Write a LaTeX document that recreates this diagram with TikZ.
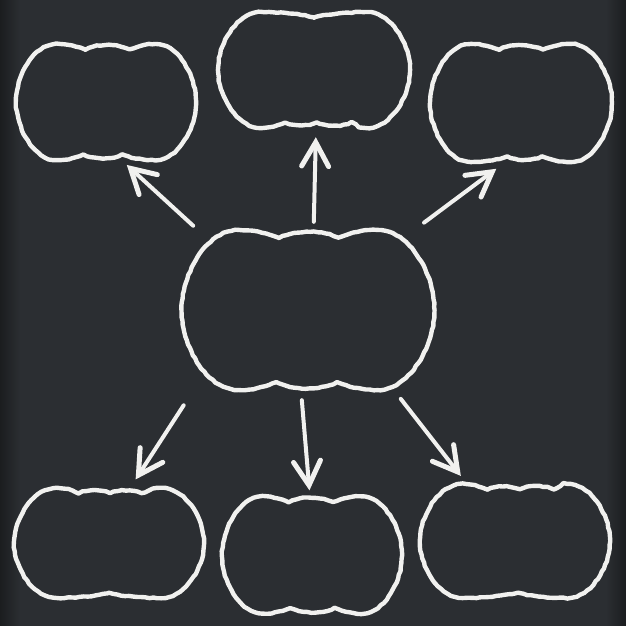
\documentclass[tikz,border=0pt]{standalone}
\usetikzlibrary{arrows.meta,decorations.pathmorphing}

\definecolor{board}{HTML}{2B2E32}
\definecolor{boardedge}{HTML}{1B1D1F}
\definecolor{chalk}{HTML}{F1F1EF}

\tikzset{
  hub/.style={shape=rectangle, inner sep=0pt},
  chalkline/.style={draw=chalk, line width=4.4pt, line join=round, line cap=round,
    decorate, decoration={random steps, segment length=4pt, amplitude=0.45pt}},
  chalkarrow/.style={draw=chalk, line width=4pt, line cap=round, line join=round,
    -{Straight Barb[length=24pt,width=27pt,line cap=round,line width=1pt 1]}},
}

% #1 name, #2 centre, #3 #4 size, #5 first dip on top, #6 other dips on top,
% #7 first dip below (right), #8 other dips below (leftwards)
\newcommand{\bubble}[8]{%
  \node[hub, minimum width=#3pt, minimum height=#4pt] (#1) at (#2) {};
  \draw[chalkline, shift={(#1.center)}, xscale=#3/2, yscale=-#4/2]
    (#5,0.9)
    \foreach \x [remember=\x as \px (initially #5)] in {#6}
      { .. controls ({\px+0.25*(\x-\px)},{0.9+0.22*(\x-\px)})
           and ({\x-0.25*(\x-\px)},{0.9+0.22*(\x-\px)}) .. (\x,0.9) }
    .. controls +(0.12,0.08) and (0.45,1) .. (0.55,1)
    .. controls (0.8,1) and (1,0.45) .. (1,0)
    .. controls (1,-0.45) and (0.8,-1) .. (0.55,-1)
    .. controls (0.45,-1) and (#7+0.12,-0.98) .. (#7,-0.9)
    \foreach \x [remember=\x as \px (initially #7)] in {#8}
      { .. controls ({\px-0.25*(\px-\x)},{-0.9-0.22*(\px-\x)})
           and ({\x+0.25*(\px-\x)},{-0.9-0.22*(\px-\x)}) .. (\x,-0.9) }
    .. controls +(-0.12,-0.08) and (-0.45,-1) .. (-0.55,-1)
    .. controls (-0.8,-1) and (-1,-0.45) .. (-1,0)
    .. controls (-1,0.45) and (-0.8,1) .. (-0.55,1)
    .. controls (-0.45,1) and (#5-0.12,0.98) .. (#5,0.9) -- cycle;
}

\begin{document}
\begin{tikzpicture}[x=1pt, y=-1pt]
      \fill[board] (0,0) rectangle (626,626);
      \shade[left color=boardedge, right color=board] (0,0) rectangle (20,626);
      \shade[left color=board, right color=boardedge] (606,0) rectangle (626,626);
      \useasboundingbox (0,0) rectangle (626,626);

      \bubble{ctr}{308,310}{253}{160}{-0.23}{0.24}{0.23}{-0.25}

      \bubble{tl}{106,102}{180}{116}{-0.23}{0.26}{0.18}{-0.25}
      \bubble{tm}{314,70}{192}{116}{0}{0.02}{0.39}{0.03,-0.3}
      \bubble{tr}{521,103}{182}{118}{-0.24}{0.24}{0.23}{-0.15}

      \bubble{bl}{109,543}{190}{110}{-0.32}{0.01,0.34}{0}{-0.02}
      \bubble{bm}{312,555}{180}{117}{-0.26}{0.23}{0.25}{-0.24}
      \bubble{br}{515,541}{190}{114}{-0.29}{0.05,0.41}{0.03}{0.01}

      % --------------------------------------------------------------------------
      \draw[chalkarrow, shorten <=6pt, shorten >=7pt] (ctr.144.5) -- (tl.285.6);
      \draw[chalkarrow, shorten <=8pt, shorten >=9pt] (ctr.86.6) -- (tm.272.2);
      \draw[chalkarrow, shorten <=12pt, shorten >=11pt] (ctr.37.9) -- (tr.255.9);
      \draw[chalkarrow, shorten <=18pt, shorten >=10pt] (ctr.215.6) -- (bl.69.2);
      \draw[chalkarrow, shorten <=10pt, shorten >=6pt] (ctr.265.4) -- (bm.92.5);
      \draw[chalkarrow, shorten <=11pt, shorten >=10pt] (ctr.317.7) -- (br.130.3);
    \end{tikzpicture}
\end{document}
